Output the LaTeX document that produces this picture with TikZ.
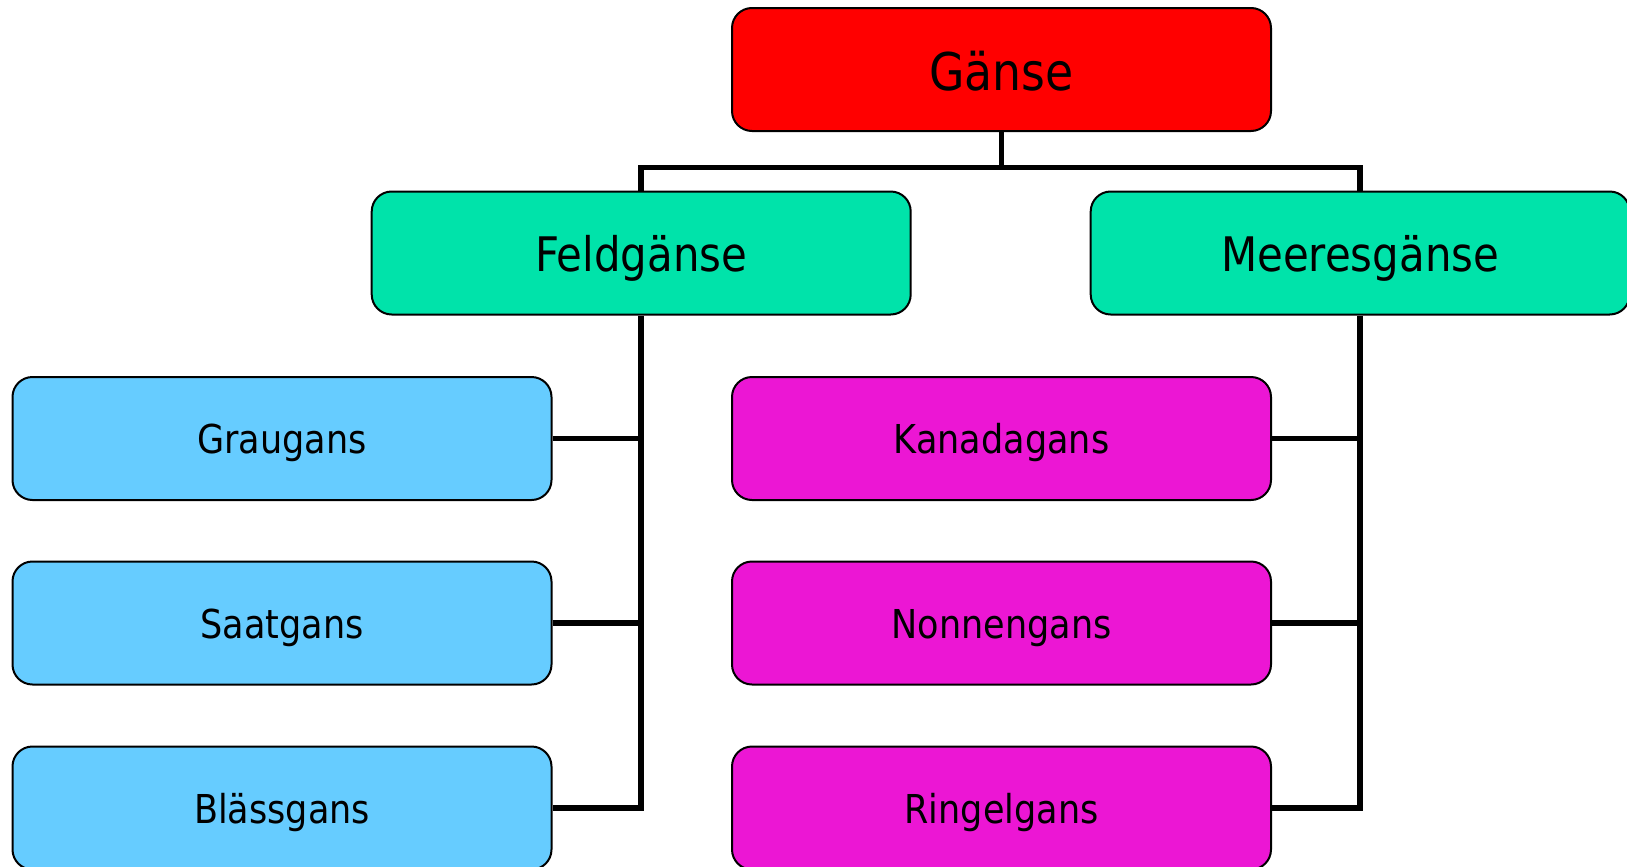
\documentclass[tikz,border=0pt]{standalone}
\usepackage{fontspec}
\setmainfont{DejaVu Sans}[FakeStretch=0.88]
\definecolor{topred}{RGB}{255,0,0}
\definecolor{midgreen}{RGB}{0,227,170}
\definecolor{leafblue}{RGB}{102,204,255}
\definecolor{leafmag}{RGB}{236,22,212}
\tikzset{
  box/.style={draw=black, line width=1pt, rounded corners=10pt, minimum width=269.5pt, minimum height=61.5pt, inner sep=0pt, text=black, anchor=center},
  toplevel/.style={box, fill=topred, font=\fontsize{26}{30}\selectfont, text height=22pt, text depth=0.8pt},
  midlevel/.style={box, fill=midgreen, font=\fontsize{23.8}{28}\selectfont, text height=22pt, text depth=3.5pt},
  leafblue/.style={box, fill=leafblue, font=\fontsize{19.9}{24}\selectfont, text height=19pt, text depth=3.6pt},
  leafmag/.style={box, fill=leafmag, font=\fontsize{19.9}{24}\selectfont, text height=19pt, text depth=3.6pt},
  conn/.style={draw=black, line width=2.8pt, line join=miter}
}
\begin{document}
\begin{tikzpicture}[x=0.5pt, y=-0.5pt]
\useasboundingbox[fill=white] (0,0) rectangle (1627,867);
\coordinate (bar) at (1001.5,167.5);
\coordinate (fbar) at (641.2,167.5);
\coordinate (mbar) at (1360.2,167.5);
% boxes
\node[toplevel] (g) at (1001.5,69.5) {Gänse};
\node[midlevel] (f) at (641.2,253) {Feldgänse};
\node[midlevel] (m) at (1360.2,253) {Meeresgänse};
\node[leafblue] (l1) at (282,438.5) {Graugans};
\node[leafblue] (l2) at (282,623) {Saatgans};
\node[leafblue] (l3) at (282,808) {Blässgans};
\node[leafmag] (r1) at (1001.5,438.5) {Kanadagans};
\node[leafmag] (r2) at (1001.5,623) {Nonnengans};
\node[leafmag] (r3) at (1001.5,808) {Ringelgans};
% connectors
\path[conn] (g.south) -- (bar);
\path[conn] (f.north) -- (fbar) -- (mbar) -- (m.north);
\path[conn] (f.south) -- (f.south |- l3.east) -- (l3.east);
\path[conn] (l1.east) -- (l1.east -| f.south);
\path[conn] (l2.east) -- (l2.east -| f.south);
\path[conn] (m.south) -- (m.south |- r3.east) -- (r3.east);
\path[conn] (r1.east) -- (r1.east -| m.south);
\path[conn] (r2.east) -- (r2.east -| m.south);
\end{tikzpicture}
\end{document}
